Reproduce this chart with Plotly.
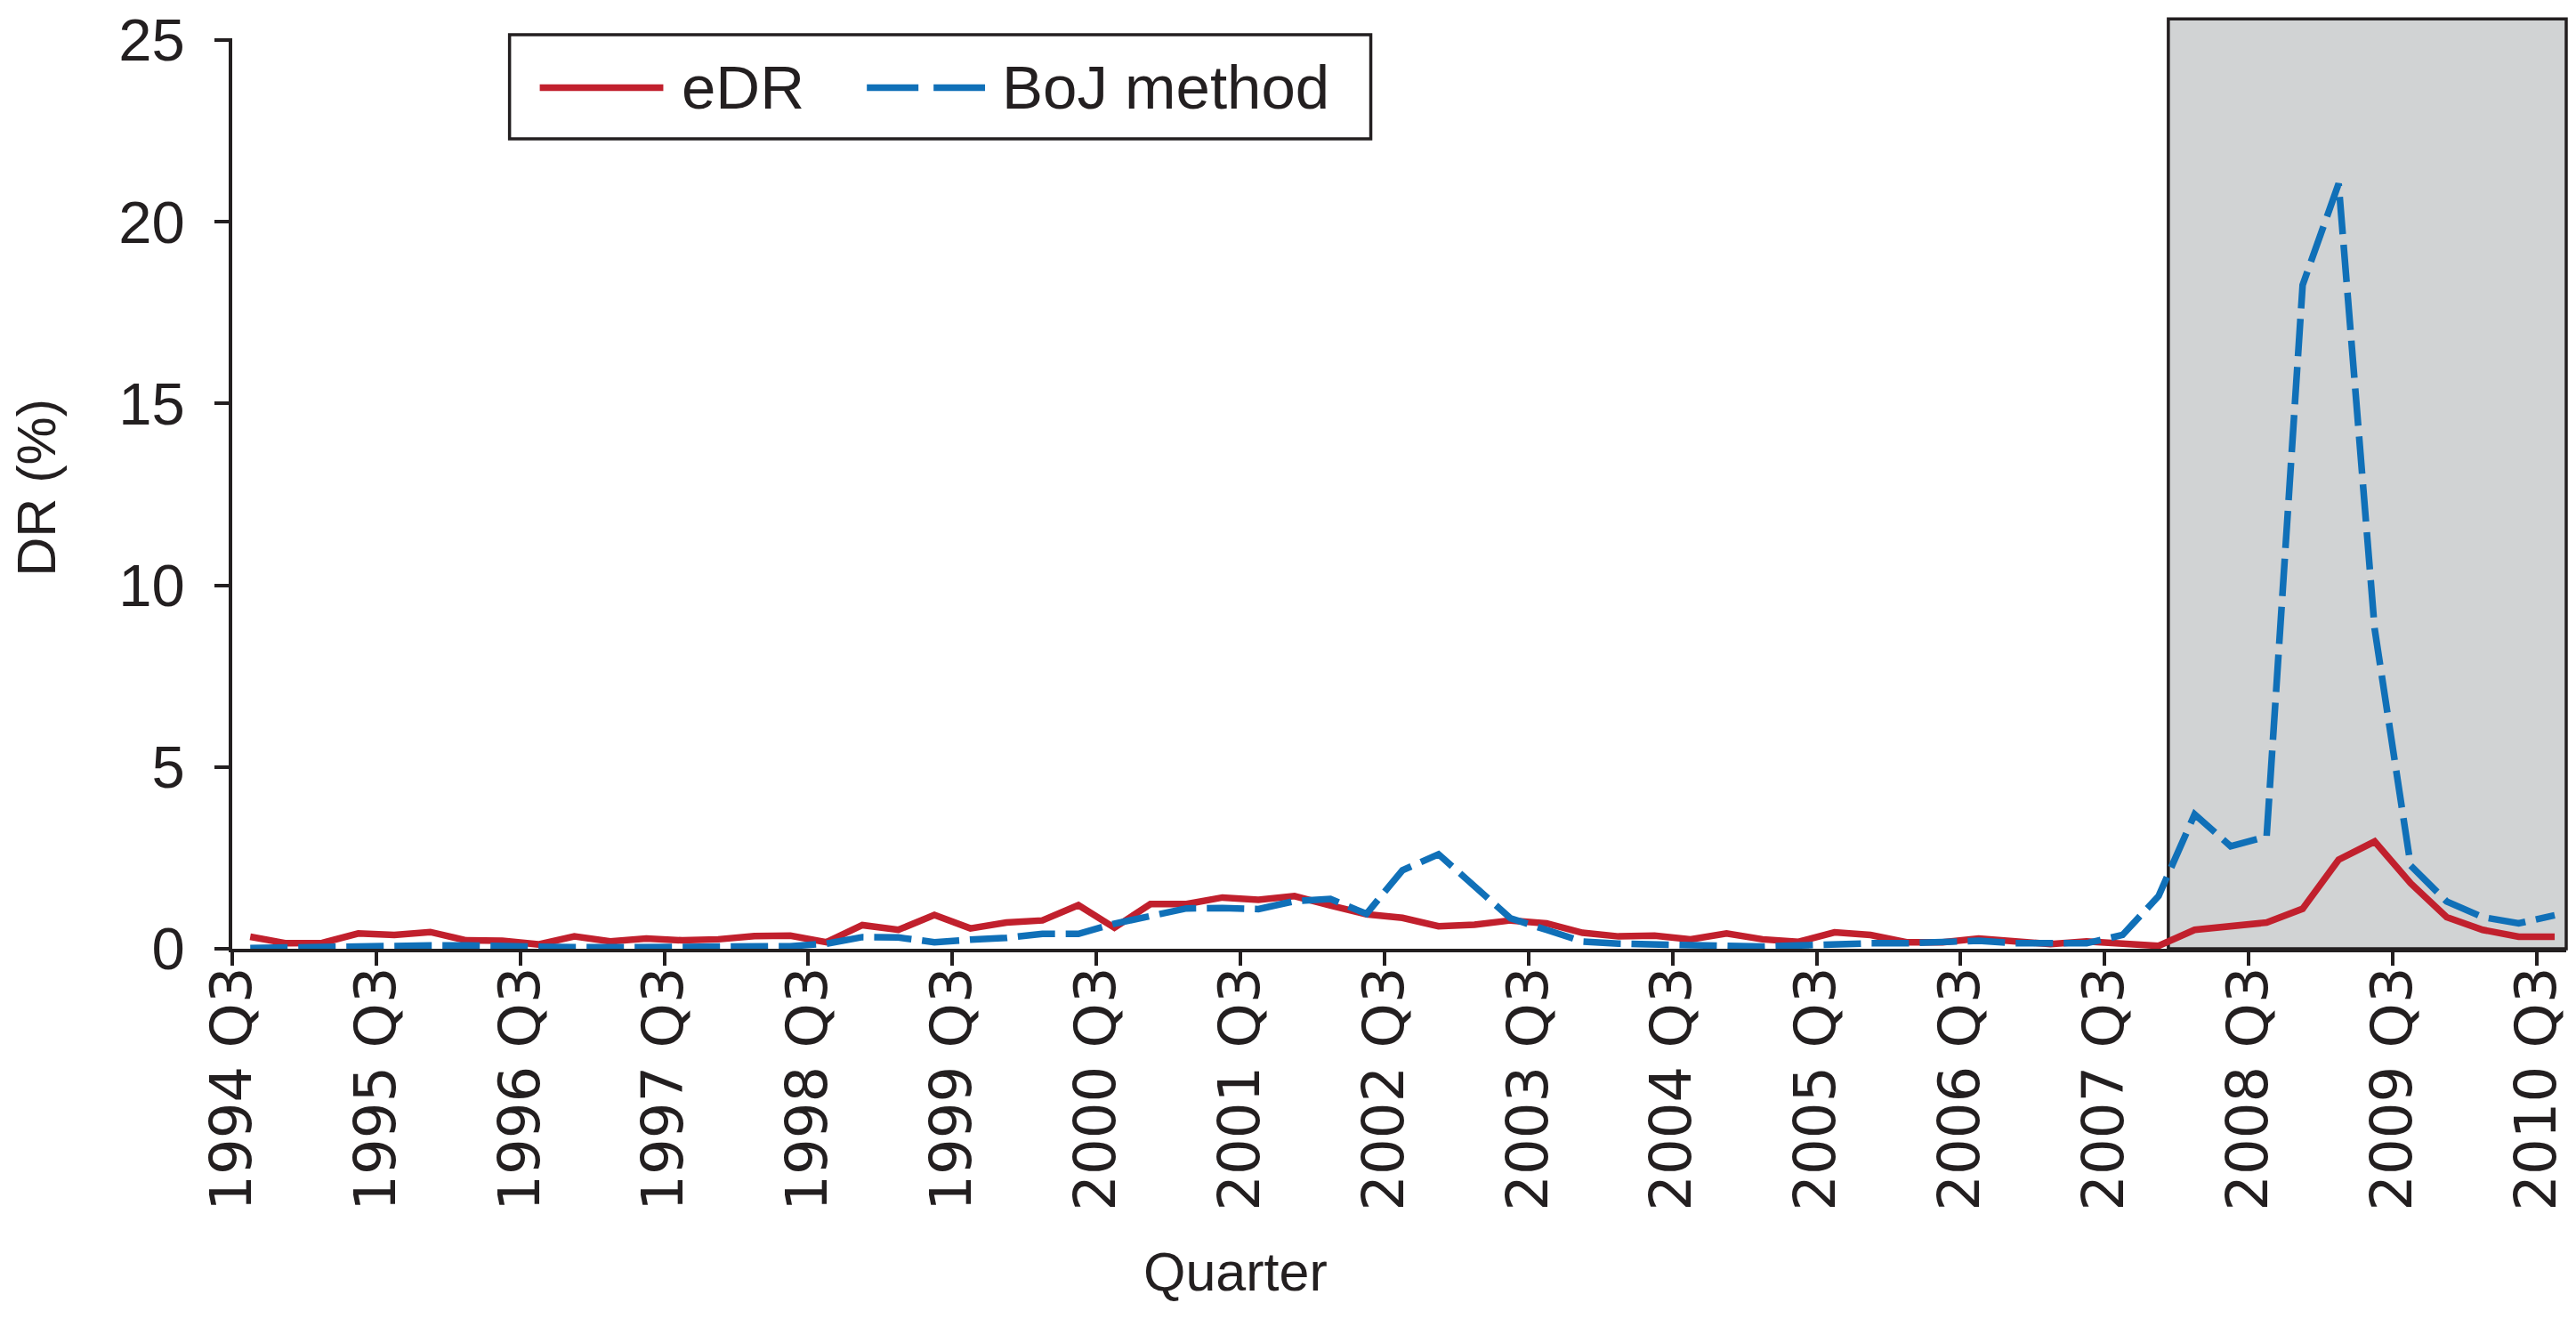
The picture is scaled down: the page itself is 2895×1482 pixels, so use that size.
import numpy as np
import plotly.graph_objects as go

# ---------------- data ----------------
quarters = [f"{1994 + (k + 2) // 4} Q{(k + 2) % 4 + 1}" for k in range(65)]  # 1994 Q3 .. 2010 Q3

edr = [0.33, 0.15, 0.16, 0.42, 0.38, 0.46, 0.23, 0.22, 0.12, 0.34,
       0.20, 0.28, 0.23, 0.26, 0.35, 0.36, 0.18, 0.65, 0.52, 0.93,
       0.56, 0.72, 0.78, 1.20, 0.58, 1.23, 1.23, 1.41, 1.35, 1.45,
       1.19, 0.95, 0.85, 0.62, 0.66, 0.78, 0.70, 0.44, 0.34, 0.36,
       0.26, 0.42, 0.26, 0.19, 0.45, 0.38, 0.18, 0.18, 0.28, 0.22,
       0.13, 0.20, 0.12, 0.08, 0.52, 0.62, 0.72, 1.10, 2.45, 2.95,
       1.80, 0.87, 0.52, 0.33, 0.33]

boj = [0.02, 0.04, 0.05, 0.07, 0.06, 0.09, 0.09, 0.06, 0.04, 0.04,
       0.04, 0.04, 0.06, 0.06, 0.07, 0.07, 0.14, 0.32, 0.31, 0.18,
       0.25, 0.30, 0.41, 0.41, 0.69, 0.89, 1.11, 1.12, 1.09, 1.31,
       1.37, 0.96, 2.16, 2.60, 1.72, 0.84, 0.52, 0.20, 0.14, 0.12,
       0.12, 0.12, 0.06, 0.09, 0.14, 0.15, 0.15, 0.18, 0.22, 0.15,
       0.14, 0.15, 0.38, 1.45, 3.70, 2.82, 3.09, 18.26, 21.05, 8.80,
       2.29, 1.30, 0.87, 0.70, 0.92]

series_names = ["eDR", "BoJ method"]
y_ticks = [0, 5, 10, 15, 20, 25]
shade_start = 53.27   # crisis shading start (quarter index units)

# ---------------- styling ----------------
RED = "#C1202D"
BLUE = "#1070B8"
INK = "#231F20"
FONT = "Liberation Sans, Arial, Helvetica, sans-serif"
FONT_X = "DejaVu Sans, Liberation Sans, Arial, sans-serif"
FS_Y = 67
FS_X = 64
FS_LEG = 69
FS_TITLE = 61
LW = 7.5
DASH = "42px,12px"

W, H = 2895, 1482
ML, MR, MT, MB = 261, 8, 34, 416
PW, PH = W - ML - MR, H - MT - MB

x = np.arange(len(quarters))
tickvals = [i - 0.5 for i, q in enumerate(quarters) if q.endswith("Q3")]
ticktext = [q for q in quarters if q.endswith("Q3")]
x_range = [-0.5, 64.32]
y_range = [0, 25.05]


def px_to_paper_x(px):
    return (px - ML) / PW


def px_to_paper_y(py):
    return (H - MB - py) / PH


fig = go.Figure()
fig.add_trace(go.Scatter(x=x, y=edr, mode="lines", name=series_names[0],
                         line=dict(color=RED, width=LW), showlegend=False))
fig.add_trace(go.Scatter(x=x, y=boj, mode="lines", name=series_names[1],
                         line=dict(color=BLUE, width=LW, dash=DASH),
                         showlegend=False))

shapes = []
# crisis shading
x0_paper = (shade_start - x_range[0]) / (x_range[1] - x_range[0])
shapes.append(dict(type="rect", xref="paper", yref="paper",
                   x0=x0_paper, x1=1.0, y0=0, y1=px_to_paper_y(12),
                   fillcolor="#D1D3D4", line=dict(color=INK, width=3.5),
                   layer="below"))
# legend box
shapes.append(dict(type="rect", xref="paper", yref="paper",
                   x0=px_to_paper_x(573), x1=px_to_paper_x(1542),
                   y0=px_to_paper_y(148), y1=px_to_paper_y(30),
                   fillcolor="white", line=dict(color=INK, width=3.5)))
ly = px_to_paper_y(90)
shapes.append(dict(type="line", xref="paper", yref="paper",
                   x0=px_to_paper_x(607), x1=px_to_paper_x(746), y0=ly, y1=ly,
                   line=dict(color=RED, width=LW)))
shapes.append(dict(type="line", xref="paper", yref="paper",
                   x0=px_to_paper_x(975), x1=px_to_paper_x(1108), y0=ly, y1=ly,
                   line=dict(color=BLUE, width=LW, dash="58px,17px")))

annotations = [
    dict(text=series_names[0], xref="paper", yref="paper",
         x=px_to_paper_x(765), y=ly, xanchor="left", yanchor="middle",
         showarrow=False, font=dict(size=FS_LEG, color=INK, family=FONT)),
    dict(text=series_names[1], xref="paper", yref="paper",
         x=px_to_paper_x(1125), y=ly, xanchor="left", yanchor="middle",
         showarrow=False, font=dict(size=FS_LEG, color=INK, family=FONT)),
    dict(text="DR (%)", xref="paper", yref="paper",
         x=px_to_paper_x(40), y=px_to_paper_y(543), xanchor="center",
         yanchor="middle", textangle=-90, showarrow=False,
         font=dict(size=FS_TITLE, color=INK, family=FONT)),
    dict(text="Quarter", xref="paper", yref="paper",
         x=px_to_paper_x(1390), y=px_to_paper_y(1432), xanchor="center",
         yanchor="middle", showarrow=False,
         font=dict(size=FS_TITLE, color=INK, family=FONT)),
]

fig.update_layout(
    width=W, height=H,
    margin=dict(l=ML, r=MR, t=MT, b=MB, pad=0),
    paper_bgcolor="white", plot_bgcolor="white",
    font=dict(family=FONT, color=INK, size=FS_Y),
    shapes=shapes, annotations=annotations,
    showlegend=False,
    xaxis=dict(range=x_range, tickmode="array", tickvals=tickvals,
               ticktext=ticktext, tickangle=-90, ticks="outside",
               ticklen=15, tickwidth=3.5, tickcolor=INK, showline=True,
               linewidth=3.5, linecolor=INK, showgrid=False, zeroline=False,
               tickfont=dict(size=FS_X, color=INK, family=FONT_X),
               ticklabelstandoff=-24),
    yaxis=dict(range=y_range, tickmode="array", tickvals=y_ticks,
               ticks="outside", ticklen=16, tickwidth=3.5, tickcolor=INK,
               showline=True, linewidth=3.5, linecolor=INK, showgrid=False,
               zeroline=False, tickfont=dict(size=FS_Y, color=INK, family=FONT),
               ticklabelstandoff=20, ticklabeloverflow="allow"),
)

# remove the default 8px page margin so the figure sits at the window origin
fig.write_html("out.html",
               config={"displayModeBar": False},
               post_script="document.body.style.margin='0';"
                           "document.body.style.overflow='hidden';")
